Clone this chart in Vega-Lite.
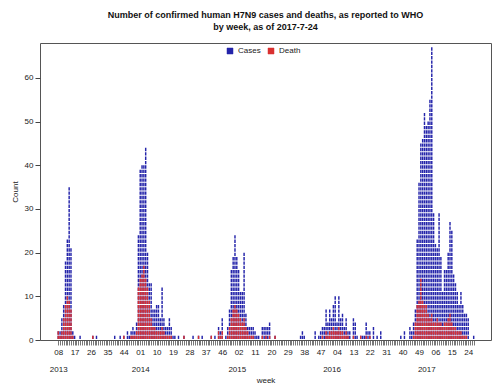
{
  "$schema": "https://vega.github.io/schema/vega-lite/v6.json",
  "autosize": {"type": "none"},
  "width": 451,
  "height": 297,
  "padding": {"left": 40, "top": 43, "right": 9, "bottom": 48},
  "background": "white",
  "config": {
    "font": "Liberation Sans",
    "view": {"stroke": "#555", "strokeWidth": 1},
    "axis": {"labelFont": "Liberation Sans", "titleFont": "Liberation Sans", "labelColor": "#222", "titleColor": "#222", "labelFontSize": 8, "titleFontSize": 8, "titleFontWeight": "normal", "grid": false}
  },
  "title": {
    "text": ["Number of confirmed human H7N9 cases and deaths, as reported to WHO", "by week, as of 2017-7-24"],
    "fontSize": 9,
    "fontWeight": "bold",
    "font": "Liberation Sans",
    "color": "#111",
    "anchor": "middle",
    "lineHeight": 12,
    "offset": 11
  },
  "data": {
    "values": [
      {"k": 0, "Cases": 2, "Death": 2}, {"k": 1, "Cases": 2, "Death": 1}, {"k": 2, "Cases": 5, "Death": 2},
      {"k": 3, "Cases": 8, "Death": 5}, {"k": 4, "Cases": 18, "Death": 8}, {"k": 5, "Cases": 23, "Death": 10},
      {"k": 6, "Cases": 35, "Death": 9}, {"k": 7, "Cases": 21, "Death": 7}, {"k": 8, "Cases": 2, "Death": 1},
      {"k": 9, "Cases": 1, "Death": 0}, {"k": 12, "Cases": 1, "Death": 0}, {"k": 19, "Cases": 1, "Death": 1},
      {"k": 21, "Cases": 1, "Death": 0}, {"k": 31, "Cases": 1, "Death": 0}, {"k": 34, "Cases": 1, "Death": 0},
      {"k": 36, "Cases": 1, "Death": 1}, {"k": 38, "Cases": 2, "Death": 0}, {"k": 39, "Cases": 1, "Death": 0},
      {"k": 40, "Cases": 2, "Death": 1}, {"k": 41, "Cases": 3, "Death": 1}, {"k": 42, "Cases": 2, "Death": 1},
      {"k": 43, "Cases": 4, "Death": 2}, {"k": 44, "Cases": 24, "Death": 12}, {"k": 45, "Cases": 39, "Death": 14},
      {"k": 46, "Cases": 40, "Death": 15}, {"k": 47, "Cases": 40, "Death": 17}, {"k": 48, "Cases": 44, "Death": 14},
      {"k": 49, "Cases": 20, "Death": 12}, {"k": 50, "Cases": 13, "Death": 9}, {"k": 51, "Cases": 13, "Death": 5},
      {"k": 52, "Cases": 7, "Death": 3}, {"k": 53, "Cases": 7, "Death": 3}, {"k": 54, "Cases": 8, "Death": 2},
      {"k": 55, "Cases": 8, "Death": 2}, {"k": 56, "Cases": 5, "Death": 2}, {"k": 57, "Cases": 12, "Death": 3},
      {"k": 58, "Cases": 5, "Death": 2}, {"k": 59, "Cases": 3, "Death": 1}, {"k": 60, "Cases": 3, "Death": 1},
      {"k": 61, "Cases": 5, "Death": 1}, {"k": 62, "Cases": 3, "Death": 1}, {"k": 63, "Cases": 1, "Death": 0},
      {"k": 64, "Cases": 1, "Death": 0}, {"k": 66, "Cases": 1, "Death": 0}, {"k": 69, "Cases": 1, "Death": 1},
      {"k": 74, "Cases": 1, "Death": 0}, {"k": 77, "Cases": 1, "Death": 1}, {"k": 79, "Cases": 1, "Death": 0},
      {"k": 84, "Cases": 1, "Death": 1}, {"k": 86, "Cases": 1, "Death": 0}, {"k": 88, "Cases": 3, "Death": 2},
      {"k": 89, "Cases": 2, "Death": 1}, {"k": 90, "Cases": 5, "Death": 2}, {"k": 92, "Cases": 1, "Death": 0},
      {"k": 93, "Cases": 3, "Death": 1}, {"k": 94, "Cases": 7, "Death": 3}, {"k": 95, "Cases": 16, "Death": 5},
      {"k": 96, "Cases": 19, "Death": 7}, {"k": 97, "Cases": 24, "Death": 8}, {"k": 98, "Cases": 19, "Death": 7},
      {"k": 99, "Cases": 16, "Death": 6}, {"k": 100, "Cases": 11, "Death": 5}, {"k": 101, "Cases": 11, "Death": 4},
      {"k": 102, "Cases": 20, "Death": 5}, {"k": 103, "Cases": 6, "Death": 3}, {"k": 104, "Cases": 3, "Death": 2},
      {"k": 105, "Cases": 3, "Death": 1}, {"k": 106, "Cases": 3, "Death": 1}, {"k": 107, "Cases": 3, "Death": 1},
      {"k": 108, "Cases": 2, "Death": 0}, {"k": 109, "Cases": 1, "Death": 0}, {"k": 110, "Cases": 1, "Death": 0},
      {"k": 112, "Cases": 3, "Death": 1}, {"k": 113, "Cases": 3, "Death": 0}, {"k": 114, "Cases": 3, "Death": 1},
      {"k": 115, "Cases": 3, "Death": 0}, {"k": 116, "Cases": 4, "Death": 1}, {"k": 119, "Cases": 1, "Death": 1},
      {"k": 133, "Cases": 1, "Death": 0}, {"k": 134, "Cases": 2, "Death": 0}, {"k": 135, "Cases": 1, "Death": 0},
      {"k": 141, "Cases": 2, "Death": 0}, {"k": 143, "Cases": 1, "Death": 0}, {"k": 144, "Cases": 2, "Death": 0},
      {"k": 145, "Cases": 3, "Death": 1}, {"k": 146, "Cases": 3, "Death": 0}, {"k": 147, "Cases": 7, "Death": 2},
      {"k": 148, "Cases": 4, "Death": 1}, {"k": 149, "Cases": 7, "Death": 2}, {"k": 150, "Cases": 5, "Death": 2},
      {"k": 151, "Cases": 8, "Death": 3}, {"k": 152, "Cases": 10, "Death": 2}, {"k": 153, "Cases": 4, "Death": 2},
      {"k": 154, "Cases": 10, "Death": 3}, {"k": 155, "Cases": 5, "Death": 2}, {"k": 156, "Cases": 6, "Death": 2},
      {"k": 157, "Cases": 3, "Death": 1}, {"k": 158, "Cases": 5, "Death": 2}, {"k": 159, "Cases": 2, "Death": 1},
      {"k": 160, "Cases": 2, "Death": 0}, {"k": 162, "Cases": 5, "Death": 1}, {"k": 163, "Cases": 4, "Death": 0},
      {"k": 164, "Cases": 1, "Death": 0}, {"k": 166, "Cases": 1, "Death": 1}, {"k": 167, "Cases": 1, "Death": 0},
      {"k": 168, "Cases": 1, "Death": 0}, {"k": 169, "Cases": 4, "Death": 1}, {"k": 170, "Cases": 2, "Death": 0},
      {"k": 171, "Cases": 2, "Death": 1}, {"k": 173, "Cases": 3, "Death": 0}, {"k": 175, "Cases": 1, "Death": 0},
      {"k": 177, "Cases": 2, "Death": 0}, {"k": 188, "Cases": 1, "Death": 0}, {"k": 190, "Cases": 2, "Death": 0},
      {"k": 193, "Cases": 3, "Death": 0}, {"k": 194, "Cases": 2, "Death": 0}, {"k": 195, "Cases": 4, "Death": 1},
      {"k": 196, "Cases": 7, "Death": 4}, {"k": 197, "Cases": 23, "Death": 8}, {"k": 198, "Cases": 36, "Death": 9},
      {"k": 199, "Cases": 45, "Death": 14}, {"k": 200, "Cases": 46, "Death": 9}, {"k": 201, "Cases": 52, "Death": 8},
      {"k": 202, "Cases": 49, "Death": 8}, {"k": 203, "Cases": 50, "Death": 6}, {"k": 204, "Cases": 55, "Death": 5},
      {"k": 205, "Cases": 67, "Death": 6}, {"k": 206, "Cases": 29, "Death": 4}, {"k": 207, "Cases": 22, "Death": 4},
      {"k": 208, "Cases": 21, "Death": 5}, {"k": 209, "Cases": 29, "Death": 4}, {"k": 210, "Cases": 19, "Death": 4},
      {"k": 211, "Cases": 11, "Death": 3}, {"k": 212, "Cases": 16, "Death": 4}, {"k": 213, "Cases": 16, "Death": 4},
      {"k": 214, "Cases": 20, "Death": 5}, {"k": 215, "Cases": 27, "Death": 6}, {"k": 216, "Cases": 25, "Death": 4},
      {"k": 217, "Cases": 15, "Death": 3}, {"k": 218, "Cases": 13, "Death": 3}, {"k": 219, "Cases": 11, "Death": 2},
      {"k": 220, "Cases": 8, "Death": 2}, {"k": 221, "Cases": 11, "Death": 2}, {"k": 222, "Cases": 8, "Death": 1},
      {"k": 223, "Cases": 6, "Death": 1}, {"k": 224, "Cases": 6, "Death": 1}, {"k": 225, "Cases": 5, "Death": 0},
      {"k": 228, "Cases": 1, "Death": 0}
    ]
  },
  "transform": [
    {"fold": ["Cases", "Death"], "as": ["series", "n"]},
    {"filter": "datum.n > 0"}
  ],
  "mark": {"type": "rule", "strokeWidth": 1.45, "strokeDash": [3.37, 0.9976], "strokeCap": "butt"},
  "encoding": {
    "x": {
      "field": "k",
      "type": "quantitative",
      "scale": {"domain": [-10, 237.5], "nice": false, "zero": false},
      "axis": {
        "title": "week",
        "titlePadding": 3,
        "values": [0,1,2,3,4,5,6,7,8,9,10,11,12,13,14,15,16,17,18,19,20,21,22,23,24,25,26,27,28,29,30,31,32,33,34,35,36,37,38,39,40,41,42,43,44,45,46,47,48,49,50,51,52,53,54,55,56,57,58,59,60,61,62,63,64,65,66,67,68,69,70,71,72,73,74,75,76,77,78,79,80,81,82,83,84,85,86,87,88,89,90,91,92,93,94,95,96,97,98,99,100,101,102,103,104,105,106,107,108,109,110,111,112,113,114,115,116,117,118,119,120,121,122,123,124,125,126,127,128,129,130,131,132,133,134,135,136,137,138,139,140,141,142,143,144,145,146,147,148,149,150,151,152,153,154,155,156,157,158,159,160,161,162,163,164,165,166,167,168,169,170,171,172,173,174,175,176,177,178,179,180,181,182,183,184,185,186,187,188,189,190,191,192,193,194,195,196,197,198,199,200,201,202,203,204,205,206,207,208,209,210,211,212,213,214,215,216,217,218,219,220,221,222,223,224,225,226,227,228],
        "labelExpr": "(datum.value === 0 || datum.value === 45 || datum.value === 98 || datum.value === 150 || datum.value === 202) ? [datum.value % 9 === 0 ? pad(toString(datum.value < 45 ? datum.value + 8 : datum.value < 98 ? datum.value - 44 : datum.value < 150 ? datum.value - 97 : datum.value < 202 ? datum.value - 149 : datum.value - 201), 2, '0', 'left') : '', datum.value === 0 ? '2013' : datum.value === 45 ? '2014' : datum.value === 98 ? '2015' : datum.value === 150 ? '2016' : '2017'] : (datum.value % 9 === 0 ? pad(toString(datum.value < 45 ? datum.value + 8 : datum.value < 98 ? datum.value - 44 : datum.value < 150 ? datum.value - 97 : datum.value < 202 ? datum.value - 149 : datum.value - 201), 2, '0', 'left') : '')",
        "labelOverlap": false,
        "labelBound": false,
        "labelFlush": false,
        "labelLineHeight": 17,
        "labelPadding": 3,
        "tickSize": 5,
        "tickColor": "#555",
        "tickWidth": 0.8,
        "domain": false
      }
    },
    "y": {
      "field": "n",
      "type": "quantitative",
      "scale": {"domain": [0, 68], "nice": false},
      "axis": {
        "title": "Count",
        "values": [0, 10, 20, 30, 40, 50, 60],
        "tickSize": 5,
        "tickColor": "#444",
        "labelPadding": 2,
        "titlePadding": 5,
        "domain": false
      }
    },
    "y2": {"datum": 0},
    "color": {
      "field": "series",
      "type": "nominal",
      "scale": {"domain": ["Cases", "Death"], "range": ["#2424aa", "#d93030"]},
      "legend": {
        "title": null,
        "orient": "none",
        "legendX": 186,
        "legendY": 4,
        "direction": "horizontal",
        "symbolType": "square",
        "symbolSize": 36,
        "symbolStrokeColor": "#333",
        "symbolStrokeWidth": 0.5,
        "labelFontSize": 8,
        "labelColor": "#222",
        "labelOffset": 4,
        "columnPadding": 6,
        "encode": {"symbols": {"update": {"fill": {"scale": "color", "field": "value"}, "fillOpacity": {"value": 1}}}}
      }
    }
  }
}
